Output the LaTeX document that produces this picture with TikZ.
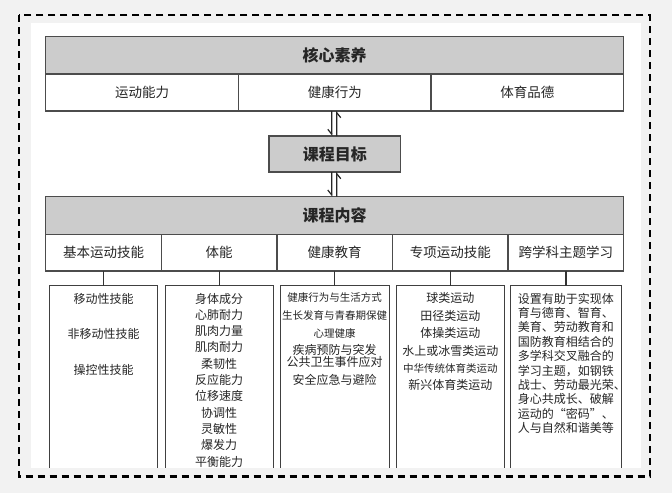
\documentclass[tikz,border=0pt]{standalone}
\usepackage{fontspec}
\setmainfont{Noto Sans CJK SC}
\usepackage{xcolor}
\usepackage{tikz}
\usetikzlibrary{shapes,arrows.meta,positioning}

\begin{document}
\begin{tikzpicture}[x=1pt, y=1pt, >=Stealth]
                    % Define styles
                    \tikzstyle{header} = [rectangle, draw=black!70, line width=1.3pt, fill=black!20, outer sep=0pt, minimum width=578, minimum height=37.3, font=\fontsize{16}{18}\selectfont\bfseries, text=black!85]
                    \tikzstyle{cell} = [rectangle, draw=black!70, line width=1.3pt, fill=white, outer sep=0pt, minimum height=37, font=\fontsize{13.5}{16}\selectfont, text=black!85]
                    \tikzstyle{lowbox} = [rectangle, outer sep=0pt, minimum height=182]
                    \tikzstyle{boxtext} = [inner sep=0pt, align=center, text=black!85]
                    \tikzstyle{side} = [draw=black!75, line width=1pt]
                    \tikzstyle{link} = [draw=black!80, line width=1.2pt]
                    \tikzstyle{harp} = [draw=black!85, line width=1.2pt]

                    % Frame
                    \useasboundingbox (0,0) rectangle (672,-493);
                    \fill[black!5] (0,0) rectangle (672,-493);
                    \fill[white] (31,-23) rectangle (640.7,-468);
                    \draw[black, line width=2.2pt, dash pattern=on 7pt off 5pt] (19,-15) rectangle (649.7,-476.5);

                    % Nodes
                    \node [header, anchor=north west] (core) at (45.7,-36.7) {核心素养};
                    \node [cell, minimum width=192.7, anchor=north west] (m1) at (core.south west) {运动能力};
                    \node [cell, minimum width=192.7, right=0pt of m1] (m2) {健康行为};
                    \node [cell, minimum width=192.7, right=0pt of m2] (m3) {体育品德};

                    \node [header, minimum width=131.7, minimum height=36, anchor=north] (goal) at (334.8,-136) {课程目标};

                    \node [header, minimum height=37.6, anchor=north west] (content) at (45.7,-196.7) {课程内容};
                    \node [cell, minimum width=115.6, minimum height=36.7, anchor=north west] (k1) at (content.south west) {基本运动技能};
                    \node [cell, minimum width=115.6, minimum height=36.7, right=0pt of k1] (k2) {体能};
                    \node [cell, minimum width=115.6, minimum height=36.7, right=0pt of k2] (k3) {健康教育};
                    \node [cell, minimum width=115.6, minimum height=36.7, right=0pt of k3] (k4) {专项运动技能};
                    \node [cell, minimum width=115.6, minimum height=36.7, right=0pt of k4] (k5) {跨学科主题学习};

                    \node [lowbox, minimum width=108, below=14.7pt of k1] (b1) {};
                    \node [lowbox, minimum width=108, below=14.7pt of k2] (b2) {};
                    \node [lowbox, minimum width=109, below=14.7pt of k3] (b3) {};
                    \node [lowbox, minimum width=108, below=14.7pt of k4] (b4) {};
                    \node [lowbox, minimum width=111, below=14.7pt of k5] (b5) {};

                    \node [boxtext, font=\fontsize{12}{35.5}\selectfont, below=7pt of b1.north] (t1) {移动性技能\\非移动性技能\\操控性技能};
                    \node [boxtext, font=\fontsize{12}{16.3}\selectfont, below=7pt of b2.north] (t2) {身体成分\\心肺耐力\\肌肉力量\\肌肉耐力\\柔韧性\\反应能力\\位移速度\\协调性\\灵敏性\\爆发力\\平衡能力};
                    \node [boxtext, font=\fontsize{12}{17.7}\selectfont, below=7pt of b3.north] (t3) {{\fontsize{10.5}{17.7}\selectfont 健康行为与生活方式}\\{\fontsize{10.5}{17.7}\selectfont 生长发育与青春期保健}\\{\fontsize{10.5}{17.7}\selectfont 心理健康}\\疾病预防与突发\\[-5.7pt]公共卫生事件应对\\安全应急与避险};
                    \node [boxtext, font=\fontsize{12}{17.4}\selectfont, below=7pt of b4.north] (t4) {球类运动\\田径类运动\\体操类运动\\水上或冰雪类运动\\{\fontsize{10.5}{17.4}\selectfont 中华传统体育类运动}\\新兴体育类运动};
                    \node [boxtext, align=left, text width=96, font=\fontsize{12}{14.4}\selectfont, below=7pt of b5.north] (t5) {设置有助于实现体\\育与德育、智育、\\美育、劳动教育和\\国防教育相结合的\\多学科交叉融合的\\学习主题，如钢铁\\战士、劳动最光荣、\\身心共成长、破解\\运动的“密码”、\\人与自然和谐美等};

                    % Box sides
                    \foreach \b in {b1,b2,b3,b4,b5}
                        \draw [side] (\b.south west) -- (\b.north west) -- (\b.north east) -- (\b.south east);

                    % Arrows
                    \draw [harp, -{Straight Barb[right, length=5pt, width=8pt]}] ([xshift=-3pt]m2.south) -- ([xshift=-3pt]goal.north);
                    \draw [harp, -{Straight Barb[right, length=5pt, width=8pt]}] ([xshift=2pt]goal.north) -- ([xshift=2pt]m2.south);
                    \draw [harp, -{Straight Barb[right, length=5pt, width=8pt]}] ([xshift=-3pt]goal.south) -- ([xshift=-3pt]content.north);
                    \draw [harp, -{Straight Barb[right, length=5pt, width=8pt]}] ([xshift=2pt]content.north) -- ([xshift=2pt]goal.south);
                    \foreach \i in {1,...,5}
                        \draw [link] (k\i) -- (b\i);
                \end{tikzpicture}
\end{document}
